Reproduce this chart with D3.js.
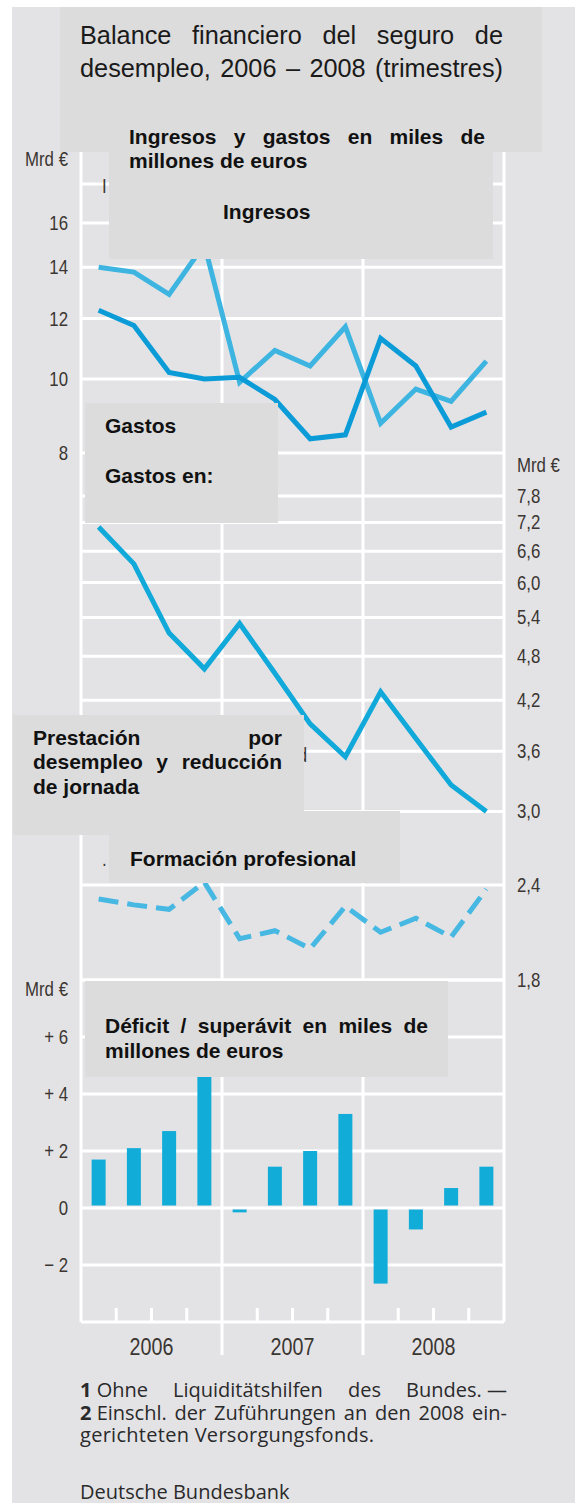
<!DOCTYPE html>
<html>
<head>
<meta charset="utf-8">
<script src="https://cdn.jsdelivr.net/npm/d3@7"></script>
<style>
  body { margin: 0; background: #fff; }
  svg { display: block; }
  .tick-label {
    font-family: "Liberation Sans", Arial, sans-serif;
    font-size: 20.5px;
    fill: #3b3631;
  }
  .year-label { font-size: 24px; }
  .title-text { font-family: "Liberation Sans", Arial, sans-serif; font-size: 25.3px; fill: #1a1a1a; }
  .box-text { font-family: "Liberation Sans", Arial, sans-serif; font-weight: bold; font-size: 21px; fill: #111; }
  .note-text { font-family: "Open Sans", "Noto Sans", sans-serif; font-size: 20px; fill: #2a2a2a; }
</style>
</head>
<body>
<div id="chart"></div>
<script>
// quarters 2006 - 2008
const quarters = ["I/06", "II/06", "III/06", "IV/06", "I/07", "II/07", "III/07", "IV/07", "I/08", "II/08", "III/08", "IV/08"]
const years = ["2006", "2007", "2008"]

// Mrd € , top panel (log scale)
const ingresos = [14.0, 13.8, 12.9, 15.0, 9.9, 10.9, 10.4, 11.7, 8.75, 9.7, 9.35, 10.55]
const gastos = [12.3, 11.75, 10.2, 10.0, 10.05, 9.4, 8.35, 8.45, 11.3, 10.4, 8.65, 9.05]

// Mrd € , middle panel (log scale, right axis)
const prestacion = [7.1, 6.35, 5.15, 4.62, 5.3, 4.56, 3.91, 3.54, 4.31, 3.74, 3.25, 3.0]
const formacion = [2.3, 2.26, 2.23, 2.42, 2.04, 2.09, 1.98, 2.25, 2.08, 2.17, 2.05, 2.37]

// Mrd € , deficit / surplus
const saldo = [1.7, 2.1, 2.7, 5.0, -0.1, 1.45, 2.0, 3.3, -2.6, -0.7, 0.7, 1.45]

const leftTicks = [8, 10, 12, 14, 16]
const leftGrid = [8, 10, 12, 14, 16, 18, 20]
const rightTicks = [1.8, 2.4, 3.0, 3.6, 4.2, 4.8, 5.4, 6.0, 6.6, 7.2, 7.8]
const barTicks = [-2, 0, 2, 4, 6]
const barGrid = [-4, -2, 0, 2, 4, 6, 8]

const width = 575
const height = 1509
const plot = { left: 81, right: 504, top: 149, bottom: 1322 }

const colors = {
  panel: "#e3e3e6",
  box: "#dcdcdc",
  ingresos: "#3db5e0",
  gastos: "#0b9cd8",
  prestacion: "#10a9d9",
  formacion: "#47b8e2",
  bars: "#12acd9",
}

const svg = d3
  .select("#chart")
  .append("svg")
  .attr("width", width)
  .attr("height", height)

svg
  .append("rect")
  .attr("x", 12)
  .attr("y", 7)
  .attr("width", width - 12)
  .attr("height", 1496)
  .attr("fill", colors.panel)

// Scales
const x = d3.scaleBand().domain(quarters).range([plot.left, plot.right])
const xYear = d3.scaleBand().domain(years).range([plot.left, plot.right])
const cx = (d, i) => x(quarters[i]) + x.bandwidth() / 2

const yTop = d3.scaleLog().domain([8, 16]).range([453, 223])
const yMid = d3.scaleLog().domain([1.8, 7.8]).range([980, 496])
const yBar = d3.scaleLinear().domain([-4, 8]).range([plot.bottom, 980])

// Grid
const grid = svg
  .append("g")
  .attr("stroke", "#fff")
  .attr("stroke-width", 3)

const hLines = [
  ...leftGrid.map(d => yTop(d)),
  ...rightTicks.map(d => yMid(d)),
  ...barGrid.map(d => yBar(d)),
]

grid
  .selectAll("line.h")
  .data(hLines)
  .join("line")
  .attr("class", "h")
  .attr("x1", plot.left)
  .attr("x2", plot.right)
  .attr("y1", d => d)
  .attr("y2", d => d)

grid
  .selectAll("line.border")
  .data([plot.left, plot.right])
  .join("line")
  .attr("class", "border")
  .attr("x1", d => d)
  .attr("x2", d => d)
  .attr("y1", plot.top)
  .attr("y2", plot.bottom)

grid
  .selectAll("line.year")
  .data(years.slice(1))
  .join("line")
  .attr("class", "year")
  .attr("x1", d => xYear(d))
  .attr("x2", d => xYear(d))
  .attr("y1", plot.top)
  .attr("y2", 1355)

grid
  .selectAll("line.qtick")
  .data(quarters.filter((d, i) => i % 4 !== 0))
  .join("line")
  .attr("class", "qtick")
  .attr("x1", d => x(d))
  .attr("x2", d => x(d))
  .attr("y1", plot.bottom - 14)
  .attr("y2", plot.bottom)

// Bars
svg
  .append("g")
  .selectAll("rect")
  .data(saldo)
  .join("rect")
  .attr("x", (d, i) => cx(d, i) - 7)
  .attr("width", 14)
  .attr("y", d => (d > 0 ? yBar(d) : yBar(0) + 1.5))
  .attr("height", d => Math.abs(yBar(d) - yBar(0)) - (d > 0 ? 2.5 : 0))
  .attr("fill", colors.bars)

// Lines
const lineTop = d3.line().x(cx).y(d => yTop(d))
const lineMid = d3.line().x(cx).y(d => yMid(d))

const lines = svg.append("g").attr("fill", "none").attr("stroke-width", 5)

lines.append("path").datum(ingresos).attr("d", lineTop).attr("stroke", colors.ingresos)
lines.append("path").datum(gastos).attr("d", lineTop).attr("stroke", colors.gastos)
lines.append("path").datum(prestacion).attr("d", lineMid).attr("stroke", colors.prestacion)
lines
  .append("path")
  .datum(formacion)
  .attr("d", lineMid)
  .attr("stroke", colors.formacion)
  .attr("stroke-dasharray", "20,9")

// the original uses a condensed face: squeeze the glyphs to 82 %
function narrow(sel) {
  sel.each(function () {
    const w = this.getComputedTextLength()
    d3.select(this).attr("textLength", w * 0.82).attr("lengthAdjust", "spacingAndGlyphs")
  })
}

// Axes
function styleAxis(g, cls) {
  g.attr("font-size", null).attr("font-family", null)
  g.select(".domain").remove()
  g.selectAll("text").attr("class", cls).call(narrow)
}

svg
  .append("g")
  .attr("transform", "translate(68,0)")
  .call(d3.axisLeft(yTop).tickValues(leftTicks).tickSize(0).tickPadding(0).tickFormat(d3.format("d")))
  .call(g => styleAxis(g, "tick-label"))

svg
  .append("g")
  .attr("transform", "translate(517,0)")
  .call(
    d3
      .axisRight(yMid)
      .tickValues(rightTicks)
      .tickSize(0)
      .tickPadding(0)
      .tickFormat(d => d3.format(".1f")(d).replace(".", ","))
  )
  .call(g => styleAxis(g, "tick-label"))

svg
  .append("g")
  .attr("transform", "translate(68,0)")
  .call(
    d3
      .axisLeft(yBar)
      .tickValues(barTicks)
      .tickSize(0)
      .tickPadding(0)
      .tickFormat(d => (d > 0 ? "+ " + d : d < 0 ? "\u2212 " + -d : "0"))
  )
  .call(g => styleAxis(g, "tick-label"))

svg
  .append("g")
  .attr("transform", "translate(0,1355)")
  .call(d3.axisBottom(xYear).tickSize(0).tickPadding(0))
  .call(g => styleAxis(g, "tick-label year-label"))
  .call(g => g.selectAll("text").attr("y", 0).attr("dy", 0))

const unitLabels = [
  { x: 68, y: 166, anchor: "end" },
  { x: 517, y: 472, anchor: "start" },
  { x: 68, y: 996, anchor: "end" },
]
svg
  .selectAll("text.unit")
  .data(unitLabels)
  .join("text")
  .attr("class", "unit tick-label")
  .attr("x", d => d.x)
  .attr("y", d => d.y)
  .attr("text-anchor", d => d.anchor)
  .text("Mrd €")
  .call(narrow)

// bits of the original labels that peek out from under the overlays
svg.append("text").attr("class", "tick-label").attr("x", 102).attr("y", 193).text("I").call(narrow)
svg.append("text").attr("class", "tick-label").attr("x", 307).attr("y", 762).attr("text-anchor", "end").text("d").call(narrow)
svg.append("text").attr("class", "tick-label").attr("x", 102).attr("y", 866).text(".").call(narrow)

// Overlay boxes
const boxes = svg.append("g").attr("fill", colors.box)
boxes.append("rect").attr("x", 60).attr("y", 7).attr("width", 482).attr("height", 145)
boxes.append("rect").attr("x", 109).attr("y", 120).attr("width", 384).attr("height", 139)
boxes.append("rect").attr("x", 85).attr("y", 403).attr("width", 193).attr("height", 120)
boxes.append("rect").attr("x", 13).attr("y", 715).attr("width", 291).attr("height", 120)
boxes.append("rect").attr("x", 109).attr("y", 811).attr("width", 291).attr("height", 72)
boxes.append("rect").attr("x", 85).attr("y", 981).attr("width", 363).attr("height", 96)

// text helpers: a word is a string or a list of [text, bold] parts
function textLine(parts, x0, y, cls) {
  const t = svg.append("text").attr("class", cls).attr("x", x0).attr("y", y)
  parts.forEach(([s, bold]) => {
    t.append("tspan").text(s).attr("font-weight", bold ? "bold" : null)
  })
  return t
}

function justify(words, x0, x1, y, cls) {
  const t = svg.append("text").attr("class", cls).attr("y", y)
  const groups = words.map(w => {
    const parts = typeof w === "string" ? [[w, false]] : w
    return parts.map(([s, bold]) =>
      t.append("tspan").text(s).attr("font-weight", bold ? "bold" : null)
    )
  })
  const widths = groups.map(g => d3.sum(g, s => s.node().getComputedTextLength()))
  const gap = (x1 - x0 - d3.sum(widths)) / (words.length - 1)
  let pos = x0
  groups.forEach((g, i) => {
    g[0].attr("x", pos)
    pos += widths[i] + gap
  })
  return t
}

// stretch a line to a given width with letter spacing
function spread(t, target) {
  const s = t.text()
  const w = t.node().getComputedTextLength()
  t.attr("letter-spacing", Math.max(0, (target - w) / (s.length - 1)))
  return t
}

// Title
justify(["Balance", "financiero", "del", "seguro", "de"], 80, 503, 44, "title-text")
justify(["desempleo,", "2006", "–", "2008", "(trimestres)"], 80, 503, 77, "title-text")

justify(["Ingresos", "y", "gastos", "en", "miles", "de"], 129, 485, 144, "box-text")
textLine([["millones de euros"]], 129, 168, "box-text")
textLine([["Ingresos"]], 223, 219, "box-text")

textLine([["Gastos"]], 105, 433, "box-text")
textLine([["Gastos en:"]], 105, 483, "box-text")

justify(["Prestación", "por"], 33, 282, 745, "box-text")
justify(["desempleo", "y", "reducción"], 33, 282, 769, "box-text")
textLine([["de jornada"]], 33, 794, "box-text")

textLine([["Formación profesional"]], 130, 866, "box-text")

justify(["Déficit", "/", "superávit", "en", "miles", "de"], 105, 428, 1033, "box-text")
textLine([["millones de euros"]], 105, 1058, "box-text")

// Footnotes
justify([[["1", true], [" Ohne", false]], "Liquiditätshilfen", "des", "Bundes. —"], 80, 507, 1397, "note-text")
justify(
  [[["2", true], [" Einschl.", false]], "der", "Zuführungen", "an", "den", "2008", "ein-"],
  80,
  507,
  1420,
  "note-text"
)
const note3 = svg
  .append("text")
  .attr("class", "note-text")
  .attr("x", 80)
  .attr("y", 1442)
  .text("gerichteten Versorgungsfonds.")
spread(note3, 294)
textLine([["Deutsche Bundesbank"]], 80, 1499, "note-text")
</script>
</body>
</html>
